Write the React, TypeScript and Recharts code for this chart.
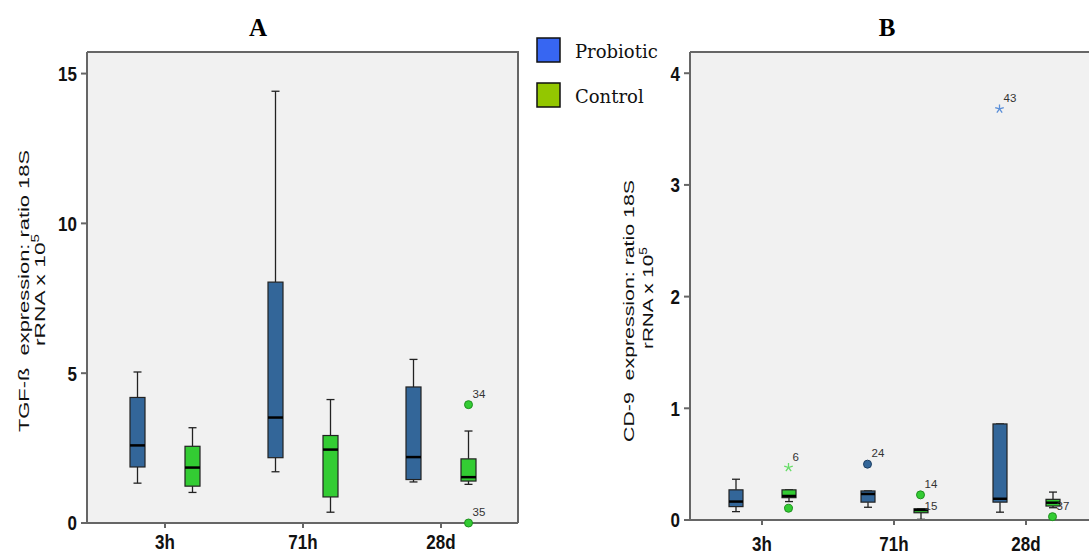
import { ComposedChart, Bar, Line, XAxis, YAxis, CartesianGrid } from "recharts";

const times = ["3h", "71h", "28d"];
const groups = ["Probiotic", "Control"];
const legendColors = ["#3766f2", "#93c700"];
const boxColors = ["#336699", "#33cc33"];
const starColors = ["#5b8fd8", "#66dd66"];

// box summaries per time point: [low whisker, Q1, median, Q3, high whisker]
const tgfProbiotic = [
  [1.33, 1.87, 2.59, 4.19, 5.04],
  [1.71, 2.18, 3.52, 8.04, 14.41],
  [1.37, 1.45, 2.2, 4.54, 5.46],
];
const tgfControl = [
  [1.02, 1.23, 1.85, 2.56, 3.18],
  [0.36, 0.87, 2.45, 2.92, 4.12],
  [1.29, 1.4, 1.53, 2.14, 3.07],
];
const cd9Probiotic = [
  [0.075, 0.12, 0.165, 0.27, 0.365],
  [0.114, 0.16, 0.233, 0.26, 0.26],
  [0.07, 0.16, 0.19, 0.86, 0.86],
];
const cd9Control = [
  [0.165, 0.2, 0.215, 0.27, 0.27],
  [0.006, 0.065, 0.09, 0.1, 0.1],
  [0.11, 0.125, 0.155, 0.185, 0.25],
];

const tgfTicks = [0, 5, 10, 15];
const cd9Ticks = [0, 1, 2, 3, 4];

type Outlier = { time: string; group: string; value: number; label: string; mark: string };

const tgfOutliers: Outlier[] = [
  { time: "28d", group: "Control", value: 3.95, label: "34", mark: "circle" },
  { time: "28d", group: "Control", value: 0, label: "35", mark: "circle" },
];
const cd9Outliers: Outlier[] = [
  { time: "3h", group: "Control", value: 0.47, label: "6", mark: "star" },
  { time: "3h", group: "Control", value: 0.105, label: "", mark: "circle" },
  { time: "71h", group: "Probiotic", value: 0.5, label: "24", mark: "circle" },
  { time: "71h", group: "Control", value: 0.225, label: "14", mark: "circle" },
  { time: "71h", group: "Control", value: 0.03, label: "15", mark: "none" },
  { time: "28d", group: "Probiotic", value: 3.68, label: "43", mark: "star" },
  { time: "28d", group: "Control", value: 0.03, label: "37", mark: "circle" },
];

function buildRows(probiotic: number[][], control: number[][], outliers: Outlier[]) {
  const boxes = [probiotic, control];
  return times.map((t, i) => {
    const row: any = { t };
    groups.forEach((g, gi) => {
      const s = boxes[gi][i];
      row[`s${gi}`] = s;
      row[`r${gi}`] = [s[0], s[4]];
      const list = outliers.filter((o) => o.time === t && o.group === g);
      for (let k = 0; k < 2; k++) {
        row[`o${gi}${k}`] = list[k] ? list[k].value : null;
        row[`m${gi}${k}`] = list[k] ?? null;
      }
    });
    return row;
  });
}

const tgfRows = buildRows(tgfProbiotic, tgfControl, tgfOutliers);
const cd9Rows = buildRows(cd9Probiotic, cd9Control, cd9Outliers);

// whiskers, box and median, placed inside the range bar that spans the whiskers
function makeBox(rows: any[], gi: number) {
  return (props: any) => {
    const { x, y, width, height, index } = props;
    const row = props.payload && props.payload[`s${gi}`] ? props.payload : rows[index];
    const s: number[] = row[`s${gi}`];
    const top = Math.min(y, y + height);
    const bottom = Math.max(y, y + height);
    const lo = s[0];
    const hi = s[4];
    const py = (v: number) => (hi === lo ? top : bottom - ((v - lo) / (hi - lo)) * (bottom - top));
    const cx = x + width / 2;
    const cap = 4;
    return (
      <g key={`box-${gi}-${index}`}>
        <line x1={cx} x2={cx} y1={py(s[4])} y2={py(s[3])} stroke="#222" strokeWidth={1.3} />
        <line x1={cx} x2={cx} y1={py(s[1])} y2={py(s[0])} stroke="#222" strokeWidth={1.3} />
        <line x1={cx - cap} x2={cx + cap} y1={py(s[4])} y2={py(s[4])} stroke="#222" strokeWidth={1.3} />
        <line x1={cx - cap} x2={cx + cap} y1={py(s[0])} y2={py(s[0])} stroke="#222" strokeWidth={1.3} />
        <rect
          x={x}
          y={py(s[3])}
          width={width}
          height={Math.max(py(s[1]) - py(s[3]), 1)}
          fill={boxColors[gi]}
          stroke="#222"
          strokeWidth={1.2}
        />
        <line x1={x} x2={x + width} y1={py(s[2])} y2={py(s[2])} stroke="#000" strokeWidth={2.5} />
      </g>
    );
  };
}

function makeOutlierDot(gi: number, k: number, shift: number) {
  return (props: any) => {
    const { cx, cy, payload, index } = props;
    const key = `od-${gi}-${k}-${index}`;
    const meta: Outlier | null = payload ? payload[`m${gi}${k}`] : null;
    if (!meta || cx == null || cy == null || isNaN(cy)) return <g key={key} />;
    const x = cx + shift;
    let mark = null;
    if (meta.mark === "circle") {
      mark = <circle cx={x} cy={cy} r={4} fill={boxColors[gi]} stroke={gi === 0 ? "#1d3f63" : "#1f8f1f"} strokeWidth={1} />;
    } else if (meta.mark === "star") {
      const arms = [0, 72, 144, 216, 288].map((a) => {
        const r = ((a - 90) * Math.PI) / 180;
        return (
          <line key={a} x1={x} y1={cy} x2={x + 4.5 * Math.cos(r)} y2={cy + 4.5 * Math.sin(r)} stroke={starColors[gi]} strokeWidth={1.3} />
        );
      });
      mark = <g>{arms}</g>;
    }
    return (
      <g key={key}>
        {mark}
        {meta.label && (
          <text x={x + 4} y={cy - 7} fontSize={11.5} fill="#333" fontFamily="Arial, 'Liberation Sans', sans-serif">
            {meta.label}
          </text>
        )}
      </g>
    );
  };
}

const sans = "Arial, 'Liberation Sans', sans-serif";
const serif = "'Liberation Serif', 'Times New Roman', serif";
const axisStroke = { stroke: "#666", strokeWidth: 2 };

// tick labels are drawn slightly stretched vertically, like the exported figure
function YTick(props: any) {
  const { x, y, payload } = props;
  return (
    <text transform={`translate(${x},${y}) scale(1,1.2)`} textAnchor="end" dy="0.36em" fontSize={17} fontWeight="bold" fontFamily={sans} fill="#111">
      {payload.value}
    </text>
  );
}

function XTick(props: any) {
  const { x, y, payload } = props;
  return (
    <text transform={`translate(${x},${y}) scale(1,1.2)`} textAnchor="middle" dy="0.71em" fontSize={17} fontWeight="bold" fontFamily={sans} fill="#111">
      {payload.value}
    </text>
  );
}

interface PanelProps {
  rows: any[];
  ticks: number[];
  max: number;
  width: number;
  margin: { top: number; right: number; bottom: number; left: number };
  padding: { left: number; right: number };
  barSize: number;
  barGap: number;
  xTickMargin: number;
}

function Panel({ rows, ticks, max, width, margin, padding, barSize, barGap, xTickMargin }: PanelProps) {
  const shift = (barSize + barGap) / 2;
  return (
    <ComposedChart width={width} height={555} data={rows} margin={margin} barSize={barSize} barGap={barGap}>
      <CartesianGrid fill="#f1f1f1" horizontal={false} vertical={false} />
      <XAxis
        dataKey="t"
        height={30}
        padding={padding}
        tickSize={5}
        tickMargin={xTickMargin}
        tick={<XTick />}
        axisLine={axisStroke}
        tickLine={axisStroke}
      />
      <YAxis
        type="number"
        domain={[0, max]}
        ticks={ticks}
        width={60}
        tickSize={6}
        tickMargin={4}
        tick={<YTick />}
        axisLine={axisStroke}
        tickLine={axisStroke}
      />
      {groups.map((g, gi) => (
        <Bar key={g} name={g} dataKey={`r${gi}`} shape={makeBox(rows, gi)} isAnimationActive={false} />
      ))}
      {groups.map((g, gi) =>
        [0, 1].map((k) => (
          <Line
            key={`${g}-${k}`}
            dataKey={`o${gi}${k}`}
            stroke="none"
            dot={makeOutlierDot(gi, k, gi === 0 ? -shift : shift)}
            activeDot={false}
            isAnimationActive={false}
          />
        ))
      )}
    </ComposedChart>
  );
}

function AxisTitle({ x1, x2, y1, y2, len1, len2, first }: { x1: number; x2: number; y1: number; y2: number; len1: number; len2: number; first: string }) {
  return (
    <g>
      <text
        transform={`translate(${x1},${y1}) rotate(-90)`}
        textAnchor="middle"
        fontFamily={sans}
        fontSize={15}
        fill="#111"
        textLength={len1}
        lengthAdjust="spacingAndGlyphs"
        style={{ whiteSpace: "pre" }}
      >
        {first}
      </text>
      <text
        transform={`translate(${x2},${y2}) rotate(-90)`}
        textAnchor="middle"
        fontFamily={sans}
        fontSize={15}
        fill="#111"
        textLength={len2}
        lengthAdjust="spacingAndGlyphs"
      >
        rRNA x 10<tspan fontSize={10} dy={-6}>5</tspan>
      </text>
    </g>
  );
}

export default function App() {
  return (
    <div style={{ position: "fixed", left: 0, top: 0, width: 1089, height: 555, overflow: "hidden", background: "#fff" }}>
      <div style={{ position: "absolute", left: 0, top: 0 }}>
        <Panel
          rows={tgfRows}
          ticks={tgfTicks}
          max={15.72}
          width={530}
          margin={{ top: 52, right: 12, bottom: 2, left: 27 }}
          padding={{ left: 9, right: 8 }}
          barSize={15}
          barGap={40}
          xTickMargin={7}
        />
      </div>
      <div style={{ position: "absolute", left: 600, top: 0 }}>
        <Panel
          rows={cd9Rows}
          ticks={cd9Ticks}
          max={4.19}
          width={520}
          margin={{ top: 52, right: 22, bottom: 5, left: 30 }}
          padding={{ left: 6, right: 6 }}
          barSize={14}
          barGap={39}
          xTickMargin={12}
        />
      </div>
      <svg width={1089} height={555} style={{ position: "absolute", left: 0, top: 0, pointerEvents: "none" }}>
        {/* top and right edges of the plot frames */}
        <polyline points="87,52 518,52 518,523" fill="none" stroke="#666" strokeWidth={2} />
        <line x1={690} y1={52} x2={1089} y2={52} stroke="#666" strokeWidth={2} />

        <text x={258} y={36} textAnchor="middle" fontFamily={serif} fontWeight="bold" fontSize={25} fill="#000">A</text>
        <text x={887} y={36} textAnchor="middle" fontFamily={serif} fontWeight="bold" fontSize={25} fill="#000">B</text>

        <AxisTitle x1={29} x2={45} y1={291} y2={290} len1={282} len2={112} first={"TGF-ß  expression: ratio 18S"} />
        <AxisTitle x1={634} x2={653} y1={311} y2={298} len1={262} len2={102} first={"CD-9  expression: ratio 18S"} />

        {groups.map((g, gi) => (
          <g key={g}>
            <rect x={537} y={38 + gi * 45} width={23} height={24} fill={legendColors[gi]} stroke="#111" strokeWidth={1.5} />
            <text x={575} y={58 + gi * 45} fontFamily="'DejaVu Serif', serif" fontSize={18} fill="#111">
              {g}
            </text>
          </g>
        ))}
      </svg>
    </div>
  );
}
